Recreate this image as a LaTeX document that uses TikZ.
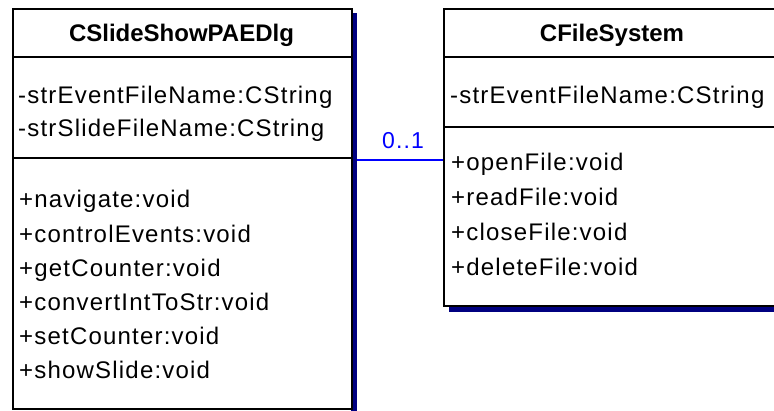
\documentclass[tikz,border=0pt]{standalone}
\usepackage{fontspec}
\setmainfont{Liberation Sans}
\newfontfamily\memberfont[LetterSpace=5]{Liberation Sans}
\definecolor{shadowblue}{HTML}{000080}
\definecolor{linkblue}{HTML}{0000FF}
\begin{document}
\begin{tikzpicture}[x=1pt,y=-1pt,
  classbox/.style={draw=black,line width=1.6pt,fill=white,inner sep=0pt,anchor=north west},
  divider/.style={line width=1.6pt},
  title/.style={font=\fontsize{24}{24}\selectfont\bfseries,inner sep=0pt,anchor=base},
  member/.style={font=\fontsize{24}{24}\memberfont,inner sep=0pt,anchor=base west},
  assoc/.style={draw=linkblue,line width=1.2pt},
  mult/.style={font=\fontsize{23}{23}\memberfont,text=linkblue,inner sep=0pt,anchor=base}]
\useasboundingbox (0,0) rectangle (774,410);
\clip (0,0) rectangle (774,410);
\fill[white] (0,0) rectangle (774,410);

% drop shadows
\fill[shadowblue] (351,13) rectangle (357,416);
\fill[shadowblue] (449,305) rectangle (790,312);

% class CSlideShowPAEDlg
\node[classbox,minimum width=339pt,minimum height=400pt] (cs) at (12,8) {};
\draw[divider] (12,57) -- (351,57);
\draw[divider] (12,158) -- (351,158);
\node[title] (csname) at (181.5,41.5) {CSlideShowPAEDlg};
\node[member] (csa1) at (18,103.5) {-strEventFileName:CString};
\node[member] (csa2) at (18,136.5) {-strSlideFileName:CString};
\node[member] (csm1) at (19,207.5) {+navigate:void};
\node[member] (csm2) at (19,242.5) {+controlEvents:void};
\node[member] (csm3) at (19,276.5) {+getCounter:void};
\node[member] (csm4) at (19,310.5) {+convertIntToStr:void};
\node[member] (csm5) at (19,344.5) {+setCounter:void};
\node[member] (csm6) at (19,378.5) {+showSlide:void};

% class CFileSystem
\node[classbox,minimum width=339pt,minimum height=297pt] (fs) at (443,8) {};
\draw[divider] (443,57) -- (782,57);
\draw[divider] (443,127) -- (782,127);
\node[title] (fsname) at (612,41.5) {CFileSystem};
\node[member] (fsa1) at (450,103.5) {-strEventFileName:CString};
\node[member] (fsm1) at (451,170.5) {+openFile:void};
\node[member] (fsm2) at (451,205.5) {+readFile:void};
\node[member] (fsm3) at (451,240.5) {+closeFile:void};
\node[member] (fsm4) at (451,275.5) {+deleteFile:void};

% association
\coordinate (linkstart) at (357,160);
\draw[assoc] (linkstart) -- (fs.west |- linkstart);
\node[mult] (m01) at (403,148) {0..1};
\end{tikzpicture}
\end{document}
